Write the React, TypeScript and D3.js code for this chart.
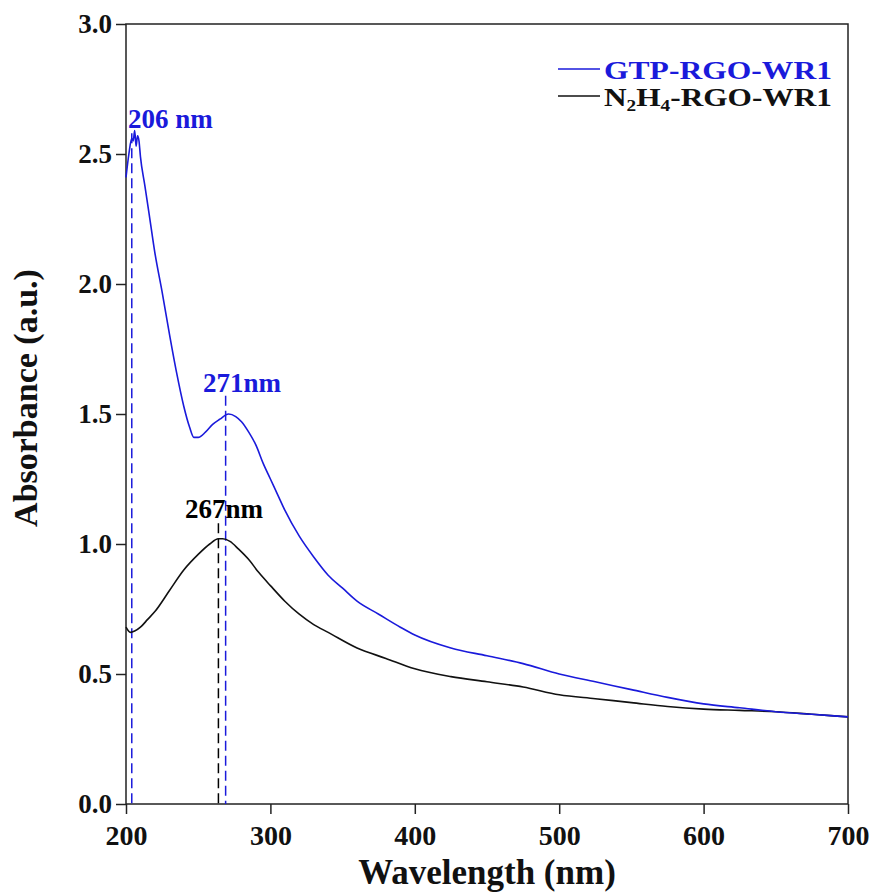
import React, {useEffect, useRef} from 'react';
import * as d3 from 'd3';

const gtpWave = [200, 202, 204, 205, 206, 207, 208, 209, 210, 213, 216, 220, 225, 230, 235, 240, 244, 247, 250, 255, 260, 265, 271, 276, 280, 285, 290, 295, 300, 305, 310, 320, 330, 340, 350, 360, 375, 390, 400, 425, 450, 475, 500, 525, 550, 575, 600, 625, 650, 675, 700];
const gtpAbs = [2.41, 2.50, 2.56, 2.55, 2.59, 2.53, 2.57, 2.55, 2.49, 2.38, 2.27, 2.12, 1.97, 1.81, 1.66, 1.53, 1.45, 1.41, 1.41, 1.43, 1.46, 1.48, 1.50, 1.49, 1.47, 1.43, 1.38, 1.31, 1.25, 1.19, 1.13, 1.03, 0.95, 0.88, 0.83, 0.78, 0.73, 0.68, 0.65, 0.60, 0.57, 0.54, 0.50, 0.47, 0.44, 0.41, 0.385, 0.37, 0.355, 0.345, 0.335];

const n2h4Wave = [200, 203, 206, 210, 215, 220, 230, 240, 250, 258, 264, 267, 272, 278, 285, 292, 300, 310, 320, 330, 340, 360, 380, 400, 425, 450, 475, 500, 525, 550, 575, 600, 625, 650, 675, 700];
const n2h4Abs = [0.68, 0.66, 0.665, 0.68, 0.71, 0.74, 0.82, 0.90, 0.96, 1.00, 1.02, 1.02, 1.01, 0.98, 0.94, 0.89, 0.84, 0.78, 0.73, 0.69, 0.66, 0.60, 0.56, 0.52, 0.49, 0.47, 0.45, 0.42, 0.405, 0.39, 0.375, 0.365, 0.36, 0.355, 0.345, 0.335];

const xTicks = [200, 300, 400, 500, 600, 700];
const yTicks = [0, 0.5, 1.0, 1.5, 2.0, 2.5, 3.0];

const BLUE = '#1a1adb';
const FONT = '"Liberation Serif", "Times New Roman", serif';

// peak markers: dashed line position / top, label text and its anchor (x px, y in absorbance)
const peaks = [
    {wave: 204, top: 2.58, label: '206 nm', color: BLUE, lx: 128, ly: 2.60},
    {wave: 269, top: 1.57, label: '271nm', color: BLUE, lx: 203, ly: 1.585},
    {wave: 264, top: 1.08, label: '267nm', color: '#000', lx: 185, ly: 1.10},
];

export default function App() {
    const ref = useRef<SVGSVGElement>(null);
    const width = 875, height = 894;
    const m = {left: 126, right: 848, top: 24, bottom: 804};

    useEffect(() => {
        const svg = d3.select(ref.current);
        svg.selectAll('*').remove();

        const x = d3.scaleLinear().domain([200, 700]).range([m.left, m.right]);
        const y = d3.scaleLinear().domain([0, 3]).range([m.bottom, m.top]);

        // frame
        svg.append('rect')
            .attr('x', m.left).attr('y', m.top)
            .attr('width', m.right - m.left).attr('height', m.bottom - m.top)
            .attr('fill', 'none').attr('stroke', '#222').attr('stroke-width', 1.5);

        const xAxis = svg.append('g')
            .attr('transform', `translate(0,${m.bottom})`)
            .call(d3.axisBottom(x).tickValues(xTicks).tickSize(10).tickSizeOuter(0).tickFormat(d3.format('d')));
        xAxis.select('.domain').remove();
        xAxis.selectAll('line').attr('stroke', '#222').attr('stroke-width', 1.5);
        xAxis.selectAll('text')
            .attr('font-family', FONT).attr('font-weight', 'bold').attr('font-size', 28)
            .attr('fill', '#111').attr('y', 41).attr('dy', 0);

        const yAxis = svg.append('g')
            .attr('transform', `translate(${m.left},0)`)
            .call(d3.axisLeft(y).tickValues(yTicks).tickSize(10).tickSizeOuter(0).tickFormat(d3.format('.1f')));
        yAxis.select('.domain').remove();
        yAxis.selectAll('line').attr('stroke', '#222').attr('stroke-width', 1.5);
        yAxis.selectAll('text')
            .attr('font-family', FONT).attr('font-weight', 'bold').attr('font-size', 27)
            .attr('fill', '#111').attr('x', -14);

        // dashed peak markers
        peaks.forEach(p => {
            svg.append('line')
                .attr('x1', x(p.wave)).attr('x2', x(p.wave))
                .attr('y1', y(p.top)).attr('y2', y(0))
                .attr('stroke', p.color).attr('stroke-width', 1.5)
                .attr('stroke-dasharray', '10,5');
            svg.append('text')
                .attr('x', p.lx).attr('y', y(p.ly))
                .attr('font-family', FONT).attr('font-weight', 'bold').attr('font-size', 27)
                .attr('fill', p.color).text(p.label);
        });

        const line = d3.line<number>()
            .x((d, i) => x(d))
            .curve(d3.curveMonotoneX);

        svg.append('path')
            .attr('d', line.y((d, i) => y(n2h4Abs[i]))(n2h4Wave))
            .attr('fill', 'none').attr('stroke', '#111').attr('stroke-width', 1.6);

        svg.append('path')
            .attr('d', line.y((d, i) => y(gtpAbs[i]))(gtpWave))
            .attr('fill', 'none').attr('stroke', BLUE).attr('stroke-width', 1.6);

        // legend
        const lg = svg.append('g');
        lg.append('line').attr('x1', 558).attr('x2', 600).attr('y1', 69).attr('y2', 69)
            .attr('stroke', BLUE).attr('stroke-width', 1.5);
        lg.append('text').attr('x', 604).attr('y', 79)
            .attr('font-family', FONT).attr('font-weight', 'bold').attr('font-size', 26)
            .attr('textLength', 228).attr('lengthAdjust', 'spacingAndGlyphs')
            .attr('fill', BLUE).text('GTP-RGO-WR1');
        lg.append('line').attr('x1', 558).attr('x2', 600).attr('y1', 96).attr('y2', 96)
            .attr('stroke', '#111').attr('stroke-width', 1.5);
        const t2 = lg.append('text').attr('x', 604).attr('y', 106)
            .attr('font-family', FONT).attr('font-weight', 'bold').attr('font-size', 26)
            .attr('fill', '#111');
        t2.append('tspan').text('N');
        t2.append('tspan').attr('font-size', 16).attr('dy', 5).text('2');
        t2.append('tspan').attr('dy', -5).text('H');
        t2.append('tspan').attr('font-size', 16).attr('dy', 5).text('4');
        t2.append('tspan').attr('dy', -5).text('-RGO-WR1');
        t2.attr('textLength', 228).attr('lengthAdjust', 'spacingAndGlyphs');

        // axis titles
        svg.append('text')
            .attr('x', (m.left + m.right) / 2).attr('y', 884)
            .attr('text-anchor', 'middle')
            .attr('font-family', FONT).attr('font-weight', 'bold').attr('font-size', 35)
            .attr('fill', '#111').text('Wavelength (nm)');
        svg.append('text')
            .attr('transform', `translate(37,${(m.top + m.bottom) / 2 - 16}) rotate(-90)`)
            .attr('text-anchor', 'middle')
            .attr('font-family', FONT).attr('font-weight', 'bold').attr('font-size', 34)
            .attr('fill', '#111').text('Absorbance (a.u.)');
    }, []);

    return (
        <svg ref={ref} width={width} height={height}
             style={{position: 'absolute', left: 0, top: 0, background: '#fff'}}/>
    );
}
